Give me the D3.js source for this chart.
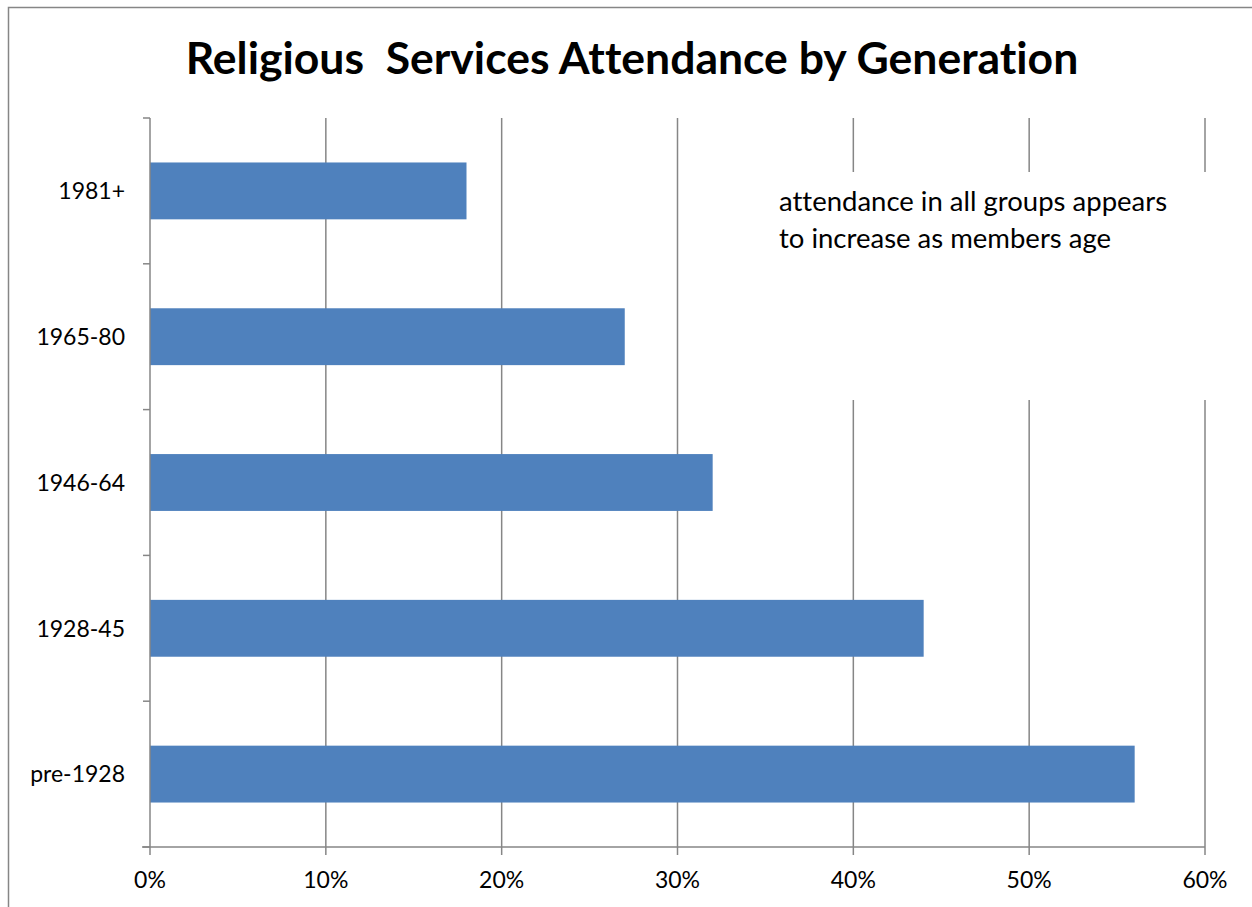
<!DOCTYPE html>
<html>
<head>
<meta charset="utf-8">
<script src="https://cdn.jsdelivr.net/npm/d3@7"></script>
<style>
  body { margin: 0; background: #fff; }
  text { font-family: Lato, "Open Sans", sans-serif; fill: #000; font-variant-ligatures: none; }
</style>
</head>
<body>
<script>
const width = 1252, height = 907;

const generations = ['1981+', '1965-80', '1946-64', '1928-45', 'pre-1928'];
const attendance = [0.18, 0.27, 0.32, 0.44, 0.56];
const xTicks = [0, 0.1, 0.2, 0.3, 0.4, 0.5, 0.6];
const title = 'Religious\u00a0\u00a0Services Attendance by Generation';
const note = ['attendance in all groups appears', 'to increase as members age'];

const margin = { top: 118, right: 47, bottom: 60, left: 150 };
const gray = '#868686';

const svg = d3.select('body').append('svg')
    .attr('width', width).attr('height', height);

// chart frame
svg.append('rect')
    .attr('x', 8.5).attr('y', 7.5)
    .attr('width', 1260).attr('height', 920)
    .attr('fill', '#fff').attr('stroke', gray).attr('stroke-width', 1.5);

const x = d3.scaleLinear().domain([0, 0.6]).range([margin.left, width - margin.right]);
const y = d3.scaleBand().domain(generations)
    .range([margin.top, height - margin.bottom])
    .paddingInner(0.61).paddingOuter(0.305);

const step = y.step();
const yBottom = height - margin.bottom;

// gridlines
svg.append('g').selectAll('line')
    .data(xTicks.slice(1))
    .join('line')
    .attr('x1', d => x(d)).attr('x2', d => x(d))
    .attr('y1', margin.top).attr('y2', yBottom)
    .attr('stroke', gray).attr('stroke-width', 1.5);

// bars
svg.append('g').selectAll('rect')
    .data(generations)
    .join('rect')
    .attr('x', x(0))
    .attr('y', d => y(d))
    .attr('width', (d, i) => x(attendance[i]) - x(0))
    .attr('height', y.bandwidth())
    .attr('fill', '#4F81BD');

// y axis
const yAxis = svg.append('g');
yAxis.append('line')
    .attr('x1', x(0)).attr('x2', x(0))
    .attr('y1', margin.top).attr('y2', yBottom)
    .attr('stroke', gray).attr('stroke-width', 1.5);
const bounds = generations.map(d => y(d) - step * y.paddingInner() / 2).concat([yBottom]);
yAxis.selectAll('.tick')
    .data(bounds)
    .join('line')
    .attr('x1', x(0) - 7).attr('x2', x(0))
    .attr('y1', d => d).attr('y2', d => d)
    .attr('stroke', gray).attr('stroke-width', 1.5);
yAxis.selectAll('text')
    .data(generations)
    .join('text')
    .attr('x', x(0) - 25)
    .attr('y', d => y(d) + y.bandwidth() / 2)
    .attr('dy', '0.36em')
    .attr('text-anchor', 'end')
    .style('font-size', '23px')
    .text(d => d);

// x axis
const xAxis = svg.append('g');
xAxis.append('line')
    .attr('x1', x(0) - 8).attr('x2', x(0.6))
    .attr('y1', yBottom).attr('y2', yBottom)
    .attr('stroke', gray).attr('stroke-width', 1.5);
xAxis.selectAll('.tick')
    .data(xTicks)
    .join('line')
    .attr('x1', d => x(d)).attr('x2', d => x(d))
    .attr('y1', yBottom).attr('y2', yBottom + 8)
    .attr('stroke', gray).attr('stroke-width', 1.5);
xAxis.selectAll('text')
    .data(xTicks)
    .join('text')
    .attr('x', d => x(d))
    .attr('y', 888)
    .attr('text-anchor', 'middle')
    .style('font-size', '23px')
    .text(d3.format('.0%'));

// annotation box covering gridlines
svg.append('rect')
    .attr('x', 760).attr('y', 172)
    .attr('width', 460).attr('height', 228)
    .attr('fill', '#fff');
svg.append('text')
    .attr('x', 779).attr('y', 211)
    .style('font-size', '27.5px')
    .selectAll('tspan')
    .data(note)
    .join('tspan')
    .attr('x', 779)
    .attr('dy', (d, i) => i ? 37 : 0)
    .text(d => d);

// title
svg.append('text')
    .attr('x', 632).attr('y', 74)
    .attr('text-anchor', 'middle')
    .style('font-size', '44.5px')
    .style('font-weight', 'bold')
    .text(title);
</script>
</body>
</html>
